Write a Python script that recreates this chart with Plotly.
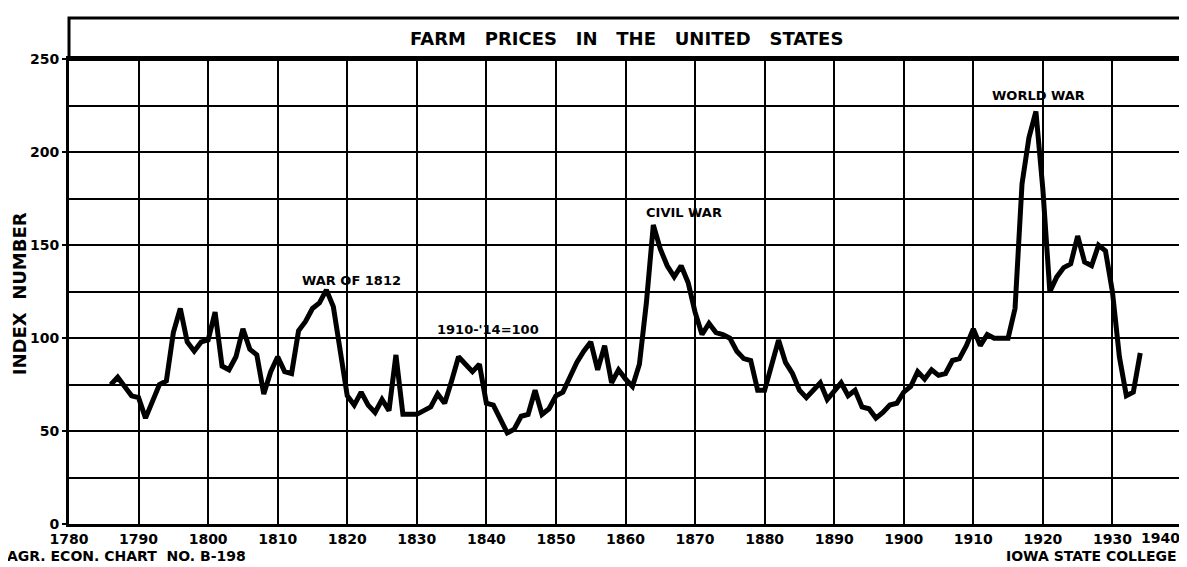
import plotly.graph_objects as go

# Farm prices in the United States, index numbers (1910-14 = 100)
years = list(range(1786, 1935))
index_values = [
    75, 79, 74, 69, 68, 57, 66, 75, 77, 103,            # 1786-1795
    116, 98, 93, 98, 99, 114, 85, 83, 90, 105,          # 1796-1805
    94, 91, 70, 82, 90, 82, 81, 104, 109, 116,          # 1806-1815
    119, 126, 117, 94, 69, 64, 71, 64, 60, 67,          # 1816-1825
    61, 91, 59, 59, 59, 61, 63, 70, 65, 77,             # 1826-1835
    90, 86, 82, 86, 65, 64, 57, 49, 51, 58,             # 1836-1845
    59, 72, 59, 62, 69, 71, 79, 87, 93, 98,             # 1846-1855
    83, 96, 76, 83, 78, 74, 86, 119, 161, 148,          # 1856-1865
    139, 133, 139, 130, 114, 102, 108, 103, 102, 100,   # 1866-1875
    93, 89, 88, 72, 72, 85, 99, 87, 81, 72,             # 1876-1885
    68, 72, 76, 67, 72, 76, 69, 72, 63, 62,             # 1886-1895
    57, 60, 64, 65, 71, 74, 82, 78, 83, 80,             # 1896-1905
    81, 88, 89, 96, 105, 96, 102, 100, 100, 100,        # 1906-1915
    116, 183, 208, 222, 180, 125, 133, 138, 140, 155,   # 1916-1925
    141, 139, 150, 147, 125, 90, 69, 71, 92,            # 1926-1934
]

x_ticks = list(range(1780, 1940, 10))   # 1940 is written by hand at the right edge
y_ticks = [0, 50, 100, 150, 200, 250]

# event labels: (text, year, index)
events = [
    ("WAR OF 1812", 1820.6, 131),
    ("1910-'14=100", 1840.3, 104.5),
    ("CIVIL WAR", 1868.4, 167.5),
    ("WORLD WAR", 1919.4, 230.5),
]

FONT = "DejaVu Sans"
plot_top = 0.918

fig = go.Figure()
fig.add_trace(go.Scatter(x=years, y=index_values, mode="lines",
                         line=dict(color="black", width=5), hoverinfo="skip"))

for text, xv, yv in events:
    fig.add_annotation(x=xv, y=yv, text=text, showarrow=False,
                       xanchor="center", yanchor="middle",
                       font=dict(family=FONT, size=13, color="black", weight="bold"))

# title box above the grid
fig.add_shape(type="rect", xref="paper", yref="paper", x0=0, x1=1, y0=plot_top, y1=1,
              line=dict(color="black", width=3))
fig.add_annotation(xref="paper", yref="paper", x=0.501, y=0.959,
                   xanchor="center", yanchor="middle",
                   text="FARM   PRICES   IN   THE   UNITED   STATES", showarrow=False,
                   font=dict(family=FONT, size=18, color="black", weight="bold"))
fig.add_annotation(xref="paper", yref="paper", x=-0.0445, y=0.455, textangle=-90,
                   xanchor="center", yanchor="middle",
                   text="INDEX  NUMBER", showarrow=False,
                   font=dict(family=FONT, size=18, color="black", weight="bold"))
fig.add_annotation(xref="paper", yref="paper", x=1.0, y=-0.027,
                   xanchor="right", yanchor="middle",
                   text="1940", showarrow=False,
                   font=dict(family=FONT, size=14, color="black", weight="bold"))
fig.add_annotation(xref="paper", yref="paper", x=-0.0575, y=-0.064,
                   xanchor="left", yanchor="middle",
                   text="AGR. ECON. CHART  NO. B-198", showarrow=False,
                   font=dict(family=FONT, size=14, color="black", weight="bold"))
fig.add_annotation(xref="paper", yref="paper", x=0.997, y=-0.064,
                   xanchor="right", yanchor="middle",
                   text="IOWA STATE COLLEGE", showarrow=False,
                   font=dict(family=FONT, size=14, color="black", weight="bold"))

fig.update_xaxes(range=[1780, 1940], tickvals=x_ticks, showgrid=True,
                 gridcolor="black", gridwidth=2, zeroline=False,
                 showline=True, linecolor="black", linewidth=3, mirror=True,
                 ticks="", ticklabelstandoff=0,
                 tickfont=dict(family=FONT, size=14, color="black", weight="bold"))
fig.update_yaxes(range=[0, 250], domain=[0, plot_top], tickvals=y_ticks,
                 showgrid=True, gridcolor="black", gridwidth=2, zeroline=False,
                 minor=dict(dtick=25, showgrid=True, gridcolor="black", gridwidth=2),
                 showline=True, linecolor="black", linewidth=3, mirror=True,
                 ticks="outside", ticklen=4, tickwidth=2, tickcolor="black",
                 tickfont=dict(family=FONT, size=14, color="black", weight="bold"))

# the page body adds an 8px offset, so the figure is sized to fit the window
fig.update_layout(width=1179, height=559, showlegend=False,
                  margin=dict(l=61, r=4, t=2, b=43),
                  plot_bgcolor="white", paper_bgcolor="white")

fig.write_html("out.html")
